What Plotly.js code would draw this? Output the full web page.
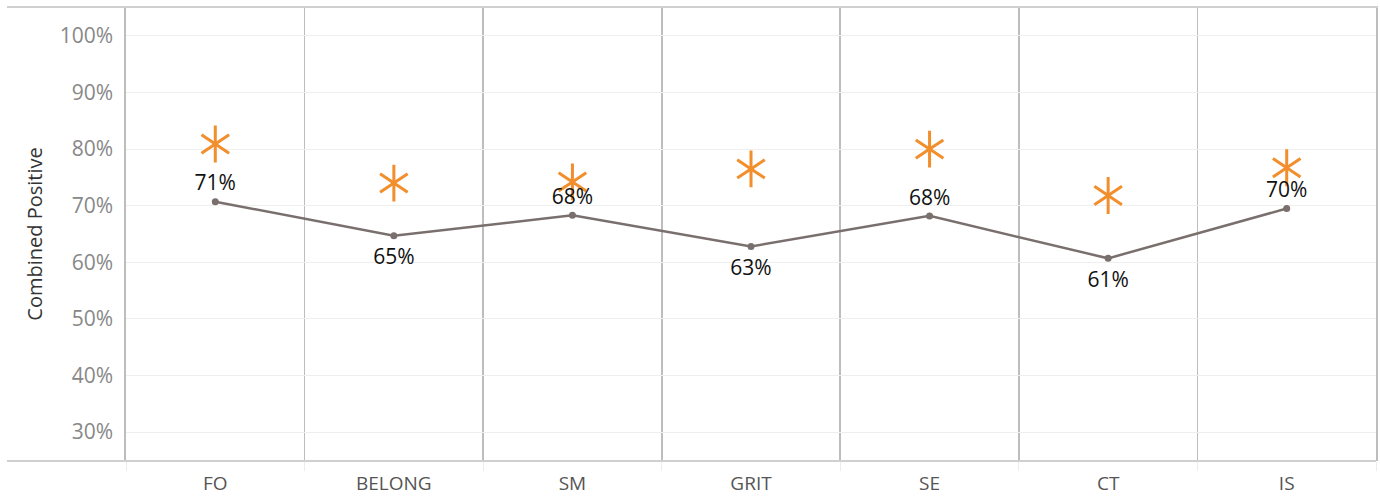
<!DOCTYPE html>
<html>
<head>
<meta charset="utf-8">
<script src="https://cdn.plot.ly/plotly-3.0.1.min.js"></script>
<style>html,body{margin:0;padding:0;background:#fff;}#chart{width:1380px;height:497px;}</style>
</head>
<body>
<div id="chart"></div>
<script>
const categories = ["FO", "BELONG", "SM", "GRIT", "SE", "CT", "IS"];
const combinedPositive = [70.7, 64.7, 68.3, 62.8, 68.2, 60.7, 69.5];
const benchmark = [80.9, 74.0, 74.2, 76.5, 80.0, 71.8, 76.7];
const labelAbove = [true, false, true, false, true, false, true];
const yTicks = [30, 40, 50, 60, 70, 80, 90, 100];

const FONT = "'Open Sans', sans-serif";
const ORANGE = "#F28E2B";
const GRAY = "#79706E";
const SEP = "#bdbdbd";

const labelText = combinedPositive.map(v => Math.round(v) + "%");
const aboveX = categories.filter((c, i) => labelAbove[i]);
const aboveY = combinedPositive.filter((v, i) => labelAbove[i]);
const aboveT = labelText.filter((v, i) => labelAbove[i]);
const belowX = categories.filter((c, i) => !labelAbove[i]);
const belowY = combinedPositive.filter((v, i) => !labelAbove[i]);
const belowT = labelText.filter((v, i) => !labelAbove[i]);

const traces = [
  {
    x: categories, y: benchmark, type: "scatter", mode: "markers",
    marker: {symbol: "y-up-open", size: 23, color: ORANGE, line: {color: ORANGE, width: 3}},
    hoverinfo: "skip", showlegend: false, cliponaxis: false
  },
  {
    x: categories, y: benchmark, type: "scatter", mode: "markers",
    marker: {symbol: "y-down-open", size: 23, color: ORANGE, line: {color: ORANGE, width: 3}},
    hoverinfo: "skip", showlegend: false, cliponaxis: false
  },
  {
    x: categories, y: combinedPositive, type: "scatter", mode: "lines+markers",
    line: {color: GRAY, width: 2.5},
    marker: {color: GRAY, size: 7},
    showlegend: false
  },
  {
    x: aboveX, y: aboveY, type: "scatter", mode: "markers+text",
    marker: {color: "rgba(0,0,0,0)", size: 8},
    text: aboveT, textposition: "top center",
    textfont: {family: FONT, size: 21, color: "#111"},
    cliponaxis: false, showlegend: false, hoverinfo: "skip"
  },
  {
    x: belowX, y: belowY, type: "scatter", mode: "markers+text",
    marker: {color: "rgba(0,0,0,0)", size: 19},
    text: belowT, textposition: "bottom center",
    textfont: {family: FONT, size: 21, color: "#111"},
    cliponaxis: false, showlegend: false, hoverinfo: "skip"
  }
];

const layout = {
  width: 1380, height: 497,
  margin: {l: 126, r: 4, t: 7, b: 36},
  paper_bgcolor: "#fff", plot_bgcolor: "#fff",
  font: {family: FONT},
  showlegend: false,
  xaxis: {
    type: "category", range: [-0.5, 6.5],
    tickson: "boundaries", showgrid: true, gridcolor: SEP, gridwidth: 1.6,
    ticks: "outside", ticklen: 9, tickcolor: "#ececec", tickwidth: 1,
    ticklabelstandoff: 9,
    showline: false, zeroline: false,
    tickfont: {family: FONT, size: 19, color: "#555"},
    fixedrange: true
  },
  yaxis: {
    range: [24.9, 105.1],
    tickvals: yTicks, ticktext: yTicks.map(v => v + "%"),
    showgrid: true, gridcolor: "#efefef", gridwidth: 1,
    zeroline: false,
    showline: true, mirror: true, linecolor: SEP, linewidth: 1.6,
    ticks: "", ticklabelstandoff: 7,
    tickfont: {family: FONT, size: 21, color: "#888"},
    title: {text: "Combined Positive", font: {family: FONT, size: 20, color: "#333"}, standoff: 12},
    fixedrange: true
  },
  shapes: [
    {type: "line", xref: "paper", yref: "paper", x0: -0.0952, x1: 1.0016, y0: 1, y1: 1, line: {color: "#d0d0d0", width: 2}},
    {type: "line", xref: "paper", yref: "paper", x0: -0.0952, x1: 1, y0: 0, y1: 0, line: {color: "#d0d0d0", width: 2}}
  ]
};

Plotly.newPlot("chart", traces, layout, {displayModeBar: false, staticPlot: true});
</script>
</body>
</html>
